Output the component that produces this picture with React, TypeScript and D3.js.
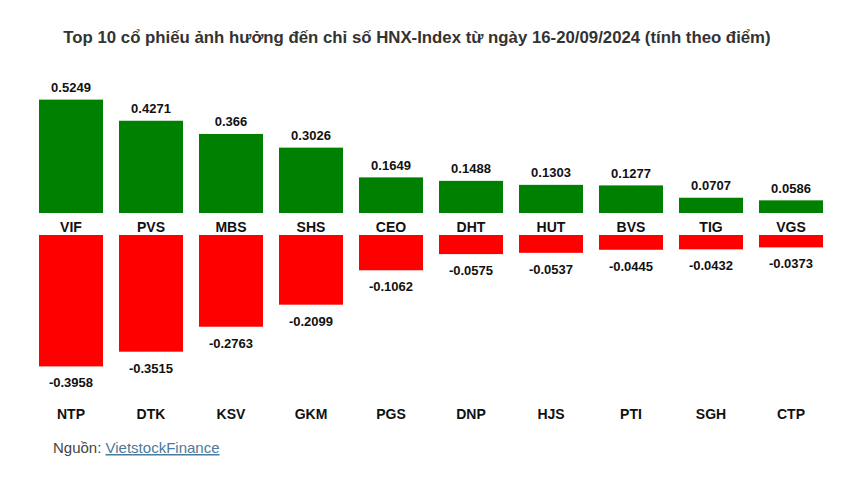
import * as d3 from 'd3'

const topCodes = ['VIF', 'PVS', 'MBS', 'SHS', 'CEO', 'DHT', 'HUT', 'BVS', 'TIG', 'VGS']
const topValues = [0.5249, 0.4271, 0.366, 0.3026, 0.1649, 0.1488, 0.1303, 0.1277, 0.0707, 0.0586]
const bottomCodes = ['NTP', 'DTK', 'KSV', 'GKM', 'PGS', 'DNP', 'HJS', 'PTI', 'SGH', 'CTP']
const bottomValues = [-0.3958, -0.3515, -0.2763, -0.2099, -0.1062, -0.0575, -0.0537, -0.0445, -0.0432, -0.0373]

const W = 868
const H = 487
const FONT = 'Arial, "Liberation Sans", sans-serif'
const GREEN = '#008000'
const RED = '#ff0000'

export default function App() {
  const idx = d3.range(topCodes.length).map(String)
  const x = d3.scaleBand<string>().domain(idx).range([31, 831]).paddingInner(0.2).paddingOuter(0.1)
  const yUp = d3.scaleLinear().domain([0, 0.6]).range([213, 213 - 0.6 * 216])
  const yDown = d3.scaleLinear().domain([0, 0.4]).range([235, 235 + 0.4 * 332])
  const bw = x.bandwidth()

  return (
    <svg width={W} height={H} style={{ position: 'absolute', left: 0, top: 0, background: '#fff' }} fontFamily={FONT}>
      <rect width={W} height={H} fill="#fff" />
      <text x={417} y={43} textAnchor="middle" fontSize={16.8} fontWeight="bold" fill="#333">
        Top 10 cổ phiếu ảnh hưởng đến chỉ số HNX-Index từ ngày 16-20/09/2024 (tính theo điểm)
      </text>

      {topValues.map((v, i) => {
        const cx = x(String(i))! + bw / 2
        return (
          <g key={'t' + i}>
            <rect x={x(String(i))} y={yUp(v)} width={bw} height={yUp(0) - yUp(v)} fill={GREEN} />
            <text x={cx} y={yUp(v) - 7.5} textAnchor="middle" fontSize={13} fontWeight="bold" fill="#111">
              {v}
            </text>
            <text x={cx} y={232} textAnchor="middle" fontSize={14} fontWeight="bold" fill="#111">
              {topCodes[i]}
            </text>
          </g>
        )
      })}

      {bottomValues.map((v, i) => {
        const cx = x(String(i))! + bw / 2
        const h = yDown(-v) - yDown(0)
        return (
          <g key={'b' + i}>
            <rect x={x(String(i))} y={yDown(0)} width={bw} height={h} fill={RED} />
            <text x={cx} y={yDown(-v) + 21} textAnchor="middle" fontSize={13} fontWeight="bold" fill="#111">
              {v}
            </text>
            <text x={cx} y={419} textAnchor="middle" fontSize={14} fontWeight="bold" fill="#111">
              {bottomCodes[i]}
            </text>
          </g>
        )
      })}

      <text x={53} y={453} fontSize={15} fill="#444">
        Nguồn: <tspan fill="#4a7a9c" textDecoration="underline">VietstockFinance</tspan>
      </text>
    </svg>
  )
}
